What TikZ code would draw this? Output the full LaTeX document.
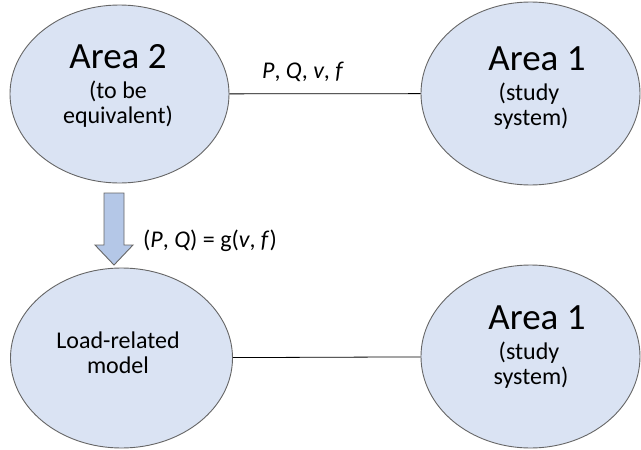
\documentclass[tikz,border=0pt]{standalone}
\usepackage{fontspec}
\setmainfont{Carlito}
\usetikzlibrary{shapes.geometric}
\definecolor{areafill}{HTML}{DAE3F3}
\definecolor{arrowfill}{HTML}{B4C7E7}
\definecolor{edgegray}{HTML}{666666}
\tikzset{
  area/.style={ellipse, draw=edgegray, fill=areafill, line width=0.9pt, inner sep=0pt},
  title/.style={anchor=base, font=\fontsize{37}{42}\selectfont, inner sep=0pt},
  sub/.style={anchor=base, font=\fontsize{24}{28}\selectfont, inner sep=0pt},
  lbl/.style={anchor=base, font=\fontsize{24}{28}\selectfont, inner sep=0pt},
  link/.style={draw=black, line width=0.8pt},
  blockarrow/.style={draw=edgegray, fill=arrowfill, line width=0.9pt, line join=miter}
}
\begin{document}
\begin{tikzpicture}[x=1pt,y=-1pt]
  \useasboundingbox (0,0) rectangle (641,450);
  \fill[white] (0,0) rectangle (641,450);

  % the four areas
  \node[area, minimum width=219pt, minimum height=178pt] (a2) at (119.5,94) {};
  \node[area, minimum width=219pt, minimum height=183pt] (a1) at (530.5,93.5) {};
  \node[area, minimum width=222pt, minimum height=180pt] (lr) at (121.5,358) {};
  \node[area, minimum width=219pt, minimum height=183pt] (b1) at (530.5,356.5) {};

  % tie lines between areas
  \draw[link] (a2) -- (a1);
  \draw[link] (lr) -- (b1);

  % texts inside the areas
  \node[title] (a2t) at (118,68) {Area 2};
  \node[sub] (a2s1) at (118,98) {(to be};
  \node[sub] (a2s2) at (118,123.5) {equivalent)};

  \node[title] (a1t) at (537,70) {Area 1};
  \node[sub] (a1s1) at (529,100) {(study};
  \node[sub] (a1s2) at (531,125.5) {system)};

  \node[sub] (lrs1) at (118,348) {Load-related};
  \node[sub] (lrs2) at (118,373) {model};

  \node[title] (b1t) at (537,329) {Area 1};
  \node[sub] (b1s1) at (529,359) {(study};
  \node[sub] (b1s2) at (531,384.5) {system)};

  % reduction arrow
  \draw[blockarrow] (104,193) -- (124,193) -- (124,245) -- (133,245)
    -- (114,265) -- (95,245) -- (104,245) -- cycle;

  % labels
  \node[lbl] (pq) at (303,78) {\textit{P}, \textit{Q}, \textit{v}, \textit{f}};
  \node[lbl, anchor=base west] (gfun) at (143,247) {(\textit{P}, \textit{Q}) = g(\textit{v}, \textit{f})};
\end{tikzpicture}
\end{document}
